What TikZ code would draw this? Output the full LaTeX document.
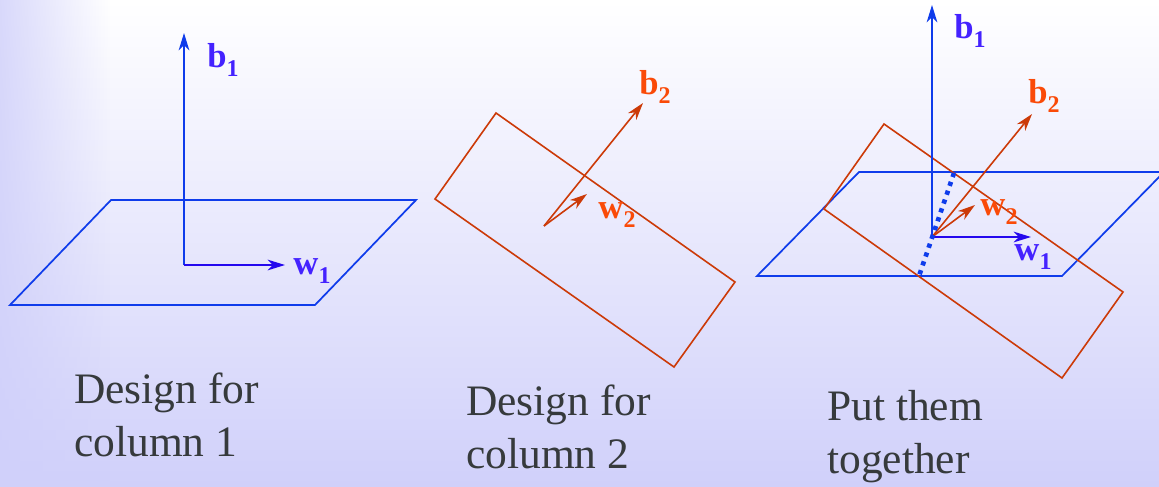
\documentclass[tikz,border=0pt]{standalone}
\usepackage{fontspec}
\setmainfont{Liberation Serif}
\usepackage{tikz}
\usetikzlibrary{arrows.meta,fadings}
\definecolor{PlaneBlue}{HTML}{0F3CEB}
\definecolor{ArrowBlue}{HTML}{2408EE}
\definecolor{LabelBlue}{HTML}{4422FF}
\definecolor{PlaneRed}{HTML}{CC3A08}
\definecolor{LabelRed}{HTML}{FA4A08}
\definecolor{CaptionGray}{HTML}{363A3C}
\definecolor{BackLilac}{HTML}{D0D0FA}
\newcommand{\veclabel}[2]{\textbf{#1\raisebox{-0.24em}{\fontsize{18}{20}\selectfont #2}}}
\tikzset{
  planeb/.style={draw=PlaneBlue,line width=1.3pt,line join=miter},
  planer/.style={draw=PlaneRed,line width=1.2pt,line join=miter},
  arrowb/.style={-{Stealth[length=13pt,width=8pt,inset=4pt]},line width=1.3pt,color=PlaneBlue},
  arrowbw/.style={-{Stealth[length=13pt,width=8pt,inset=4pt]},line width=1.3pt,color=ArrowBlue},
  arrowr/.style={-{Stealth[length=13pt,width=8pt,inset=4pt]},line width=1.2pt,color=PlaneRed},
  labelb/.style={inner sep=0pt,text=LabelBlue,font=\fontsize{26}{28}\selectfont},
  labelr/.style={inner sep=0pt,text=LabelRed,font=\fontsize{26}{28}\selectfont},
  caption/.style={anchor=north west,inner sep=0pt,align=left,text=CaptionGray,font=\fontsize{32.6}{39.75}\selectfont},
}

\begin{document}
\begin{tikzpicture}[x=0.75pt,y=-0.75pt]
  \useasboundingbox (0,0) rectangle (1159,486);
  \clip (0,0) rectangle (1159,486);
  % ── Background ──
  \shade[top color=white,bottom color=BackLilac] (0,0) rectangle (1159,486);
  \fill[BackLilac,path fading=east] (-25,0) rectangle (110,486);

  % ── Design for column 1 ──
  \coordinate (oa) at (184,265);
  \coordinate (ba) at (184,33);
  \coordinate (wa) at (285,265);
  \draw[planeb] (111,200) -- (416,200) -- (315,305) -- (10,305) -- cycle;
  \draw[arrowb] (oa) -- (ba);
  \draw[arrowbw] (oa) -- (wa);
  \node[labelb] (balabel) at (223,60) {\veclabel{b}{1}};
  \node[labelb] (walabel) at (312,271) {\veclabel{w}{1}};
  \node[caption] (capa) at (74,373) {Design for\\column 1};

  % ── Design for column 2 ──
  \coordinate (ob) at (544,226);
  \coordinate (bb) at (643,103);
  \coordinate (wb) at (587,194);
  \draw[planer] (496,113) -- (735,282) -- (674,367) -- (435,199) -- cycle;
  \draw[arrowr] (ob) -- (bb);
  \draw[arrowr] (ob) -- (wb);
  \node[labelr] (bblabel) at (655,87) {\veclabel{b}{2}};
  \node[labelr] (wblabel) at (617,215) {\veclabel{w}{2}};
  \node[caption] (capb) at (466,385) {Design for\\column 2};

  % ── Put them together ──
  \coordinate (oc) at (932,237);
  \coordinate (bc) at (932,5);
  \coordinate (wc) at (1031,237);
  \coordinate (bd) at (1032,114);
  \coordinate (wd) at (975,205);
  \coordinate (dota) at (954,173);
  \coordinate (dotb) at (919,276);
  \draw[planeb] (859,172) -- (1164,172) -- (1062,276) -- (757,276) -- cycle;
  \draw[planer] (884,124) -- (1123,292) -- (1062,378) -- (824,209) -- cycle;
  \draw[arrowb] (oc) -- (bc);
  \draw[arrowbw] (oc) -- (wc);
  \draw[arrowr] (oc) -- (bd);
  \draw[arrowr] (oc) -- (wd);
  \draw[PlaneBlue,line width=3.5pt,dash pattern=on 3.2pt off 3.8pt] (dota) -- (dotb);
  \node[labelb] (bclabel) at (970,31) {\veclabel{b}{1}};
  \node[labelb] (wclabel) at (1033,257) {\veclabel{w}{1}};
  \node[labelr] (bdlabel) at (1044,96) {\veclabel{b}{2}};
  \node[labelr] (wdlabel) at (999,212) {\veclabel{w}{2}};
  \node[caption] (capc) at (827,390) {Put them\\together};
\end{tikzpicture}
\end{document}
